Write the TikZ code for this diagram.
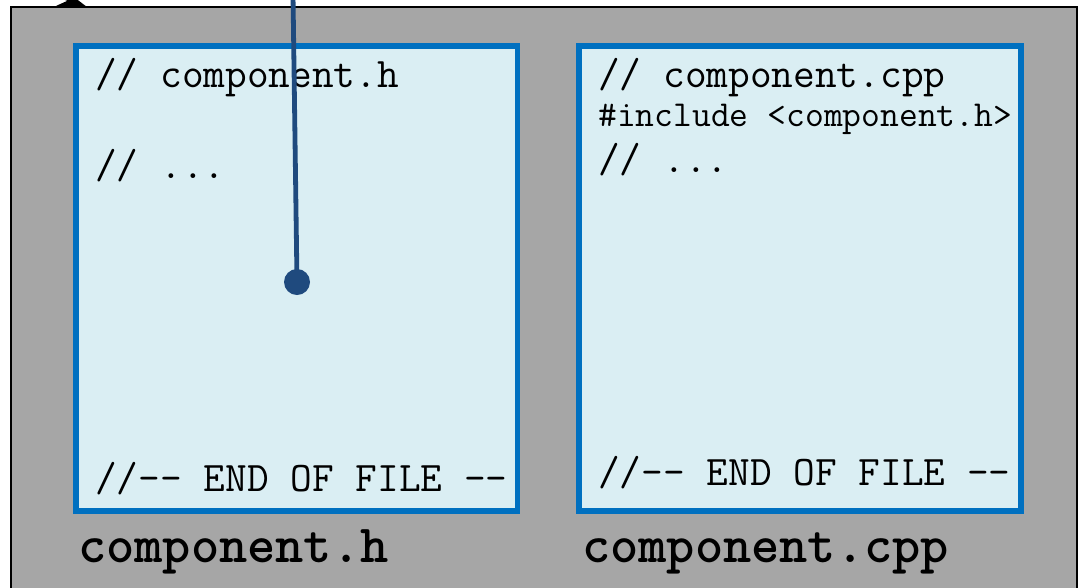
\documentclass[tikz,border=0pt]{standalone}
\usepackage{fontspec}
\usetikzlibrary{arrows.meta}
\definecolor{framegray}{HTML}{A6A6A6}
\definecolor{filebox}{HTML}{0070C0}
\definecolor{filefill}{HTML}{DAEEF3}
\definecolor{linkblue}{HTML}{1F4A7E}
\tikzset{
  fileframe/.style={draw=filebox, line width=4.4pt, inner sep=0pt, anchor=north west},
  codeline/.style={anchor=base west, inner sep=0pt, font=\ttfamily\fontsize{31.6pt}{34pt}\selectfont},
  smallcode/.style={anchor=base west, inner sep=0pt, font=\ttfamily\fontsize{27.4pt}{30pt}\selectfont},
  filename/.style={anchor=base west, inner sep=0pt, font=\ttfamily\bfseries\fontsize{40.3pt}{44pt}\selectfont\addfontfeatures{FakeBold=1.2}},
}
\begin{document}
\begin{tikzpicture}[x=0.75pt, y=-0.75pt]
\useasboundingbox (0,0) rectangle (1078,587);
\clip (0,0) rectangle (1078,587);
% outer frame
\draw[fill=framegray, line width=1.8pt] (11,7) rectangle (1077,620);
\coordinate (corner) at (87,7);
\coordinate (from) at (20,-17);
\draw[line width=1.2pt, -{Stealth[length=22pt, width=14pt]}] (from) -- (corner);
% file panels (filled first, outlines drawn over the text afterwards)
\fill[filefill] (73,43) rectangle (514.5,508);
\fill[filefill] (576,43) rectangle (1018,508);
\begin{scope}
\clip (73,43) rectangle (514.5,508);
\node[codeline] (h1) at (95,87) {// component.h};
\node[codeline] (h2) at (95,178) {// ...};
\node[codeline] (h3) at (95,491) {//-- END OF FILE --};
\end{scope}
\begin{scope}
\clip (576,43) rectangle (1018,508);
\node[codeline] (c1) at (598,87) {// component.cpp};
\node[smallcode] (c2) at (598,126) {\#include <component.h>};
\node[codeline] (c3) at (598,172) {// ...};
\node[codeline] (c4) at (598,485) {//-- END OF FILE --};
\end{scope}
\node[fileframe, minimum width=441.5*0.75pt, minimum height=465*0.75pt] (hfile) at (73,43) {};
\node[fileframe, minimum width=442*0.75pt, minimum height=465*0.75pt] (cppfile) at (576,43) {};
% captions
\node[filename] (hname) at (78,562) {component.h};
\node[filename] (cppname) at (582,562) {component.cpp};
% link into the header
\coordinate (linktop) at (293,-5);
\node[circle, fill=linkblue, minimum size=19.5pt, inner sep=0pt] (pin) at (297,282) {};
\draw[linkblue, line width=3.6pt] (linktop) -- (pin.center);
\end{tikzpicture}
\end{document}
